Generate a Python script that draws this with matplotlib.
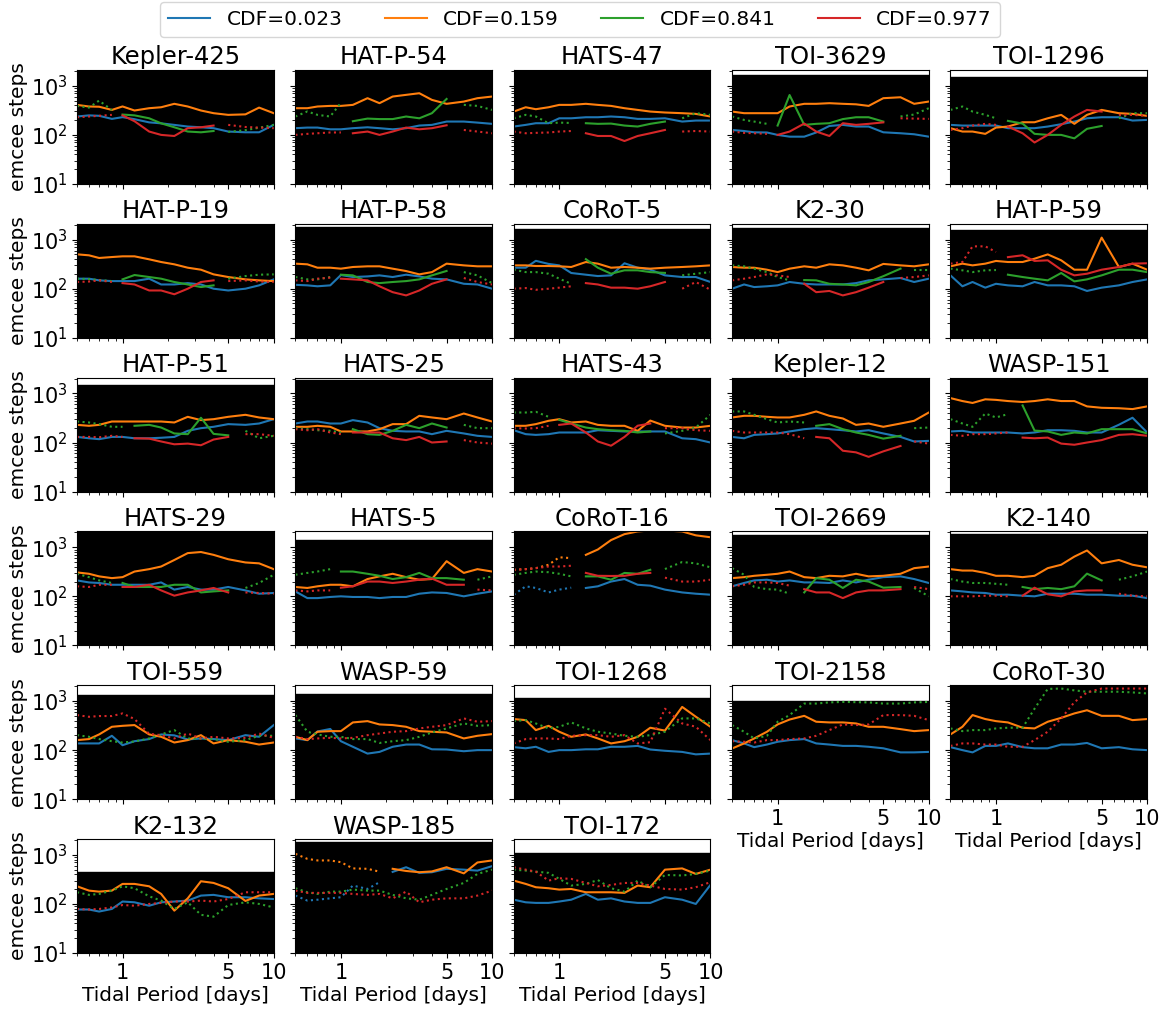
import matplotlib
matplotlib.use('Agg')
import matplotlib.pyplot as plt
from matplotlib.lines import Line2D
from matplotlib.ticker import FixedLocator, FixedFormatter, NullFormatter

# Tidal periods (days) at which the autocorrelation step counts were sampled
PERIODS = [0.5, 0.6, 0.7, 0.85, 1.0, 1.2, 1.5, 1.8, 2.2, 2.7, 3.3, 4.0, 5.0, 6.5, 8.0, 10.0]

PLANETS = ['Kepler-425', 'HAT-P-54', 'HATS-47', 'TOI-3629', 'TOI-1296',
           'HAT-P-19', 'HAT-P-58', 'CoRoT-5', 'K2-30', 'HAT-P-59',
           'HAT-P-51', 'HATS-25', 'HATS-43', 'Kepler-12', 'WASP-151',
           'HATS-29', 'HATS-5', 'CoRoT-16', 'TOI-2669', 'K2-140',
           'TOI-559', 'WASP-59', 'TOI-1268', 'TOI-2158', 'CoRoT-30',
           'K2-132', 'WASP-185', 'TOI-172']

# upper edge of the black band for each planet
BAND_TOP = [3000, 3000, 3000, 1660, 1490,
            3000, 1800, 1650, 1700, 1600,
            1465, 1870, 3000, 3000, 3000,
            3000, 1375, 3000, 1800, 1880,
            1310, 1380, 1150, 1000, 3000,
            440, 1800, 1080]

CDF_LABELS = ['CDF=0.023', 'CDF=0.159', 'CDF=0.841', 'CDF=0.977']
CDF_COLORS = ['C0', 'C1', 'C2', 'C3']

# emcee steps, one row per planet ('s' = converged/solid, 'd' = dotted)
STEPS_023 = [
    [237, 250, 245, 212, 230, 209, 180, 172, 160, 148, 143, 137, 117, 113, 113, 160],
    [137, 141, 141, 130, 130, 137, 143, 137, 130, 137, 155, 160, 187, 187, 178, 168],
    [148, 160, 173, 173, 218, 218, 229, 229, 237, 229, 212, 212, 218, 187, 196, 196],
    [126, 120, 113, 112, 100, 92, 92, 112, 152, 160, 148, 148, 113, 108, 103, 92],
    [160, 155, 155, 155, 155, 137, 137, 137, 148, 165, 187, 218, 229, 229, 196, 202],
    [160, 160, 148, 143, 143, 143, 160, 122, 122, 130, 122, 100, 92, 100, 117, 155],
    [120, 117, 112, 117, 190, 173, 178, 187, 173, 193, 178, 160, 155, 126, 122, 100],
    [268, 268, 370, 320, 299, 209, 193, 181, 187, 330, 268, 244, 187, 173, 173, 137],
    [100, 122, 108, 112, 117, 137, 126, 122, 122, 122, 130, 148, 155, 165, 137, 160],
    [187, 112, 137, 105, 126, 117, 112, 137, 117, 117, 112, 90, 105, 117, 137, 155],
    [130, 122, 117, 130, 130, 122, 122, 125, 130, 173, 196, 209, 237, 229, 244, 299],
    [244, 268, 268, 244, 244, 286, 256, 196, 173, 168, 168, 148, 173, 153, 137, 130],
    [178, 148, 143, 148, 160, 160, 160, 178, 173, 168, 168, 168, 168, 122, 117, 100],
    [130, 122, 143, 148, 153, 168, 187, 196, 187, 178, 168, 178, 153, 130, 105, 108],
    [168, 173, 160, 160, 160, 160, 153, 160, 178, 178, 173, 160, 160, 230, 320, 160],
    [211, 192, 187, 172, 172, 172, 172, 192, 137, 155, 137, 137, 155, 132, 113, 117],
    [126, 92, 92, 97, 100, 97, 97, 92, 97, 97, 113, 120, 117, 100, 113, 126],
    [108, 160, 148, 120, 137, 150, 148, 160, 200, 225, 172, 165, 137, 120, 113, 108],
    [160, 187, 211, 218, 200, 211, 192, 192, 187, 211, 192, 218, 246, 255, 225, 187],
    [132, 126, 120, 117, 108, 108, 103, 100, 113, 113, 113, 108, 108, 103, 103, 92],
    [137, 137, 137, 196, 126, 152, 168, 209, 200, 165, 173, 168, 160, 202, 187, 324],
    [173, 160, 240, 270, 152, 117, 85, 92, 117, 130, 130, 104, 103, 95, 100, 100],
    [115, 109, 117, 92, 100, 100, 104, 104, 117, 117, 122, 103, 97, 92, 82, 85],
    [160, 137, 115, 130, 148, 160, 168, 137, 130, 122, 122, 117, 109, 90, 90, 92],
    [115, 100, 90, 122, 122, 137, 115, 109, 109, 130, 130, 140, 109, 115, 104, 100],
    [77, 77, 70, 79, 112, 108, 92, 108, 112, 117, 148, 153, 137, 137, 130, 126],
    [148, 117, 122, 130, 137, 237, 202, 277, 450, 560, 430, 443, 520, 500, 478, 590],
    [122, 108, 105, 105, 112, 122, 160, 122, 130, 112, 105, 105, 137, 122, 100, 244],
]
STEPS_159 = [
    [409, 379, 375, 323, 380, 314, 350, 366, 430, 379, 314, 277, 256, 262, 360, 277],
    [350, 350, 379, 390, 390, 409, 560, 443, 605, 655, 707, 517, 430, 478, 560, 605],
    [299, 366, 334, 366, 409, 409, 430, 409, 390, 350, 323, 299, 286, 277, 268, 237],
    [299, 277, 277, 277, 277, 379, 430, 430, 443, 430, 420, 390, 560, 585, 430, 478],
    [137, 117, 117, 105, 141, 148, 181, 181, 218, 256, 168, 256, 323, 277, 268, 244],
    [502, 479, 423, 442, 457, 457, 397, 350, 314, 268, 244, 196, 173, 155, 148, 143],
    [324, 314, 268, 268, 256, 277, 286, 286, 256, 229, 196, 218, 324, 299, 286, 286],
    [299, 299, 290, 290, 286, 277, 350, 324, 268, 277, 268, 256, 268, 277, 286, 299],
    [277, 268, 268, 244, 218, 256, 286, 268, 314, 299, 268, 237, 320, 299, 286, 314],
    [286, 324, 299, 324, 368, 350, 350, 409, 500, 379, 244, 244, 1100, 277, 324, 244],
    [229, 219, 229, 268, 268, 268, 268, 268, 256, 334, 286, 299, 334, 367, 324, 299],
    [209, 209, 219, 209, 168, 168, 168, 187, 237, 237, 350, 324, 299, 390, 324, 268],
    [219, 219, 237, 277, 299, 256, 268, 229, 219, 219, 173, 280, 219, 202, 202, 219],
    [324, 350, 350, 334, 324, 324, 367, 430, 350, 309, 229, 244, 209, 244, 277, 409],
    [804, 700, 640, 760, 740, 700, 670, 700, 760, 700, 700, 545, 510, 500, 480, 545],
    [307, 288, 255, 235, 246, 320, 358, 405, 550, 760, 800, 700, 570, 490, 470, 358],
    [155, 148, 160, 172, 172, 160, 225, 255, 288, 246, 218, 225, 520, 300, 358, 320],
    [347, 358, 375, 440, 625, 600, 700, 900, 1400, 1850, 2100, 2200, 2200, 2100, 1750, 1600],
    [235, 246, 262, 275, 288, 320, 246, 235, 262, 255, 288, 255, 262, 288, 375, 405],
    [358, 335, 335, 300, 262, 262, 246, 262, 375, 440, 645, 860, 470, 550, 440, 390],
    [160, 168, 209, 299, 313, 324, 209, 187, 143, 160, 202, 137, 160, 148, 130, 143],
    [187, 160, 237, 244, 244, 367, 390, 334, 324, 299, 244, 237, 229, 173, 196, 212],
    [430, 409, 256, 313, 237, 187, 209, 173, 137, 152, 187, 286, 250, 760, 480, 299],
    [108, 137, 173, 237, 334, 420, 500, 379, 367, 367, 350, 299, 299, 268, 244, 256],
    [209, 299, 518, 430, 390, 367, 286, 277, 379, 455, 560, 650, 500, 500, 409, 430],
    [229, 187, 178, 187, 256, 256, 229, 160, 73, 130, 290, 268, 209, 115, 148, 160],
    [1050, 830, 770, 770, 710, 530, 520, 455, 520, 470, 443, 460, 560, 420, 700, 770],
    [299, 256, 219, 209, 196, 202, 173, 173, 173, 168, 237, 219, 500, 530, 409, 500],
]
STEPS_841 = [
    [390, 360, 500, 320, 260, 250, 218, 172, 143, 117, 113, 120, 115, 125, 140, 160],
    [237, 300, 256, 237, 450, 190, 215, 210, 210, 237, 218, 277, 540, 409, 390, 323],
    [218, 256, 237, 173, 178, 175, 173, 168, 170, 155, 148, 168, 187, 218, 277, 256],
    [237, 202, 187, 168, 155, 650, 160, 168, 173, 210, 229, 229, 187, 237, 260, 350],
    [323, 379, 299, 256, 218, 193, 170, 105, 100, 100, 85, 133, 152, 218, 277, 277],
    [160, 157, 150, 143, 155, 190, 173, 160, 137, 122, 108, 117, 160, 181, 193, 196],
    [173, 155, 155, 173, 193, 187, 137, 130, 137, 143, 155, 187, 230, 218, 187, 130],
    [244, 218, 218, 202, 160, 126, 400, 268, 202, 237, 237, 218, 210, 187, 202, 218],
    [299, 286, 256, 218, 173, 148, 150, 148, 126, 122, 117, 137, 180, 256, 237, 237],
    [256, 237, 218, 237, 240, 193, 173, 160, 148, 209, 141, 155, 187, 244, 244, 218],
    [268, 256, 237, 209, 209, 219, 229, 202, 153, 148, 320, 150, 140, 173, 122, 137],
    [196, 187, 178, 173, 160, 187, 148, 143, 173, 229, 196, 244, 202, 229, 196, 196],
    [409, 409, 423, 334, 290, 244, 202, 187, 178, 173, 160, 168, 153, 173, 202, 367],
    [430, 430, 367, 299, 256, 268, 256, 219, 237, 187, 160, 143, 120, 137, 196, 202],
    [299, 244, 209, 390, 324, 379, 570, 175, 168, 143, 160, 153, 187, 187, 187, 153],
    [288, 246, 211, 187, 187, 155, 155, 155, 172, 172, 120, 126, 132, 148, 187, 275],
    [275, 300, 320, 358, 320, 320, 288, 262, 225, 246, 300, 235, 235, 218, 218, 255],
    [275, 300, 320, 310, 288, 255, 255, 255, 218, 300, 288, 347, 360, 500, 470, 390],
    [375, 275, 155, 140, 137, 113, 120, 235, 218, 148, 218, 200, 150, 155, 148, 100],
    [225, 200, 187, 187, 180, 172, 155, 140, 148, 140, 160, 290, 211, 218, 255, 320],
    [202, 187, 168, 152, 143, 150, 173, 209, 256, 173, 170, 168, 148, 160, 196, 196],
    [518, 237, 209, 187, 187, 168, 168, 140, 152, 160, 187, 229, 277, 350, 313, 324],
    [390, 409, 350, 277, 299, 367, 277, 237, 218, 196, 187, 202, 237, 443, 443, 350],
    [324, 237, 173, 196, 379, 518, 890, 890, 940, 960, 950, 940, 890, 890, 940, 960],
    [277, 244, 256, 256, 277, 286, 286, 700, 1770, 1800, 1650, 1550, 1550, 1550, 1500, 1430],
    [173, 153, 160, 187, 229, 209, 143, 117, 79, 108, 60, 55, 95, 108, 100, 85],
    [209, 173, 160, 178, 178, 196, 187, 187, 153, 130, 122, 153, 202, 268, 409, 500],
    [500, 478, 455, 430, 324, 237, 256, 307, 209, 178, 299, 219, 390, 380, 409, 478],
]
STEPS_977 = [
    [229, 237, 245, 256, 250, 190, 117, 100, 95, 137, 143, 155, 160, 145, 141, 137],
    [100, 105, 108, 112, 112, 108, 117, 100, 117, 141, 130, 137, 157, 126, 117, 108],
    [117, 108, 110, 112, 117, 120, 108, 95, 95, 75, 95, 108, 126, 117, 120, 117],
    [117, 110, 108, 105, 100, 117, 170, 117, 95, 173, 160, 168, 180, 218, 215, 212],
    [126, 137, 155, 168, 160, 148, 108, 70, 100, 160, 237, 323, 299, 256, 256, 244],
    [137, 140, 148, 137, 130, 122, 92, 92, 77, 100, 137, 148, 143, 148, 140, 137],
    [148, 143, 160, 168, 160, 155, 148, 112, 85, 73, 92, 126, 155, 165, 137, 122],
    [100, 103, 95, 100, 105, 112, 130, 122, 105, 105, 100, 112, 137, 100, 137, 95],
    [148, 160, 173, 196, 187, 173, 126, 85, 90, 73, 85, 105, 137, 165, 173, 187],
    [324, 350, 730, 730, 560, 440, 480, 368, 379, 244, 187, 202, 244, 277, 324, 330],
    [130, 130, 128, 137, 130, 122, 120, 105, 92, 95, 88, 115, 130, 148, 148, 137],
    [187, 178, 187, 160, 148, 160, 160, 160, 122, 112, 130, 100, 105, 112, 100, 95],
    [196, 193, 196, 219, 229, 244, 160, 105, 86, 130, 220, 244, 196, 196, 178, 173],
    [173, 160, 160, 160, 160, 148, 122, 130, 122, 68, 63, 51, 66, 85, 105, 95],
    [143, 137, 148, 148, 153, 160, 126, 122, 126, 95, 90, 100, 112, 143, 148, 137],
    [160, 155, 172, 172, 155, 155, 172, 132, 103, 120, 132, 148, 120, 120, 117, 113],
    [132, 126, 132, 132, 150, 160, 200, 200, 187, 200, 218, 230, 172, 172, 137, 132],
    [347, 358, 375, 405, 405, 420, 300, 262, 260, 262, 288, 300, 240, 200, 200, 218],
    [160, 172, 192, 192, 187, 165, 140, 120, 120, 92, 120, 132, 132, 140, 155, 140],
    [100, 100, 100, 103, 103, 100, 103, 150, 110, 100, 126, 132, 132, 113, 103, 100],
    [518, 478, 495, 495, 560, 430, 215, 202, 173, 218, 173, 187, 173, 178, 218, 178],
    [187, 168, 173, 178, 173, 178, 202, 218, 237, 244, 277, 299, 324, 443, 379, 390],
    [137, 168, 173, 173, 168, 196, 202, 202, 187, 202, 137, 145, 700, 350, 300, 160],
    [152, 148, 143, 160, 160, 168, 173, 196, 256, 334, 324, 334, 518, 518, 500, 409],
    [122, 137, 137, 130, 130, 117, 117, 160, 237, 443, 950, 1500, 1800, 1800, 1800, 1800],
    [79, 77, 79, 85, 95, 92, 100, 105, 112, 112, 117, 112, 126, 173, 173, 173],
    [187, 168, 168, 168, 168, 160, 153, 160, 130, 178, 108, 122, 130, 130, 148, 187],
    [560, 500, 455, 299, 334, 324, 268, 229, 244, 268, 268, 237, 202, 196, 219, 278],
]

ALL_S = 'ssssssssssssssss'
ALL_D = 'dddddddddddddddd'
STYLE_023 = [ALL_S] * 17 + ['dddddd ssssssssss'] + [ALL_S] * 8 + ['dddddddd ssssssss', ALL_S]
STYLE_159 = list(STYLE_023)
STYLE_841 = [
    'dddd ssssssss dddd', 'ddddd ssssssss ddd', 'dddddd sssssss ddd', 'dddd sssssssss ddd',
    'ddddd ssssssss ddd', 'dddd ssssssss dddd', 'dddd sssssssss ddd', 'dddddd sssssss ddd',
    'dddddd ssssssss dd', 'ddddd sssssssssss', 'ddddd ssssssss ddd', 'ddddd ssssssss ddd',
    'dddd ssssssss dddd', 'ddddddd sssssss dd', 'dddddd ssssssssss', 'dddd sssssssss ddd',
    'dddd ssssssssss dd', 'dddddd ssssss dddd', 'dddddd ssssssss dd', 'dddddd sssssss ddd',
] + [ALL_D] * 8
STYLE_977 = [
    'dddd ssssssss dddd', 'ddddd ssssssss ddd', 'dddddd sssssss ddd', 'dddd sssssssss ddd',
    'ddddd ssssssss ddd', 'dddd ssssssss dddd', 'dddd sssssssss ddd', 'dddddd sssssss ddd',
    'dddddd sssssss ddd', 'ddddd sssssssssss', 'ddddd ssssssss ddd', 'ddddd ssssssss ddd',
    'dddd ssssssss dddd', 'ddddddd sssssss dd', 'dddddd ssssssssss', 'dddd sssssssss ddd',
    'dddd ssssssssss dd', 'dddddd ssssss dddd', 'dddddd ssssssss dd', 'dddddd sssssss ddd',
] + [ALL_D] * 8

SERIES = [(STEPS_023, STYLE_023), (STEPS_159, STYLE_159),
          (STEPS_841, STYLE_841), (STEPS_977, STYLE_977)]


def _plot_runs(ax, values, style, color):
    # split a series into solid / dotted stretches and draw each one
    style = style.replace(' ', '')
    start = 0
    for i in range(1, len(style) + 1):
        if i == len(style) or style[i] != style[start]:
            ls = '-' if style[start] == 's' else ':'
            ax.plot(PERIODS[start:i], values[start:i], color=color,
                    linestyle=ls, linewidth=1.5, zorder=2)
            start = i


fig, axes = plt.subplots(6, 5, figsize=(11.67, 10.09), dpi=100)
fig.subplots_adjust(left=0.066, right=0.983, top=0.9306, bottom=0.0555,
                    wspace=0.11, hspace=0.35)

nrows, ncols = 6, 5
n = len(PLANETS)
for idx in range(nrows * ncols):
    row, col = divmod(idx, ncols)
    ax = axes[row, col]
    if idx >= n:
        ax.remove()
        continue

    ax.set_xscale('log')
    ax.set_yscale('log')
    ax.axhspan(1, BAND_TOP[idx], color='black', zorder=0)
    for (steps, styles), color in zip(SERIES, CDF_COLORS):
        _plot_runs(ax, steps[idx], styles[idx], color)

    ax.set_xlim(0.5, 10)
    ax.set_ylim(10, 2100)
    ax.xaxis.set_major_locator(FixedLocator([1, 5, 10]))
    ax.xaxis.set_major_formatter(FixedFormatter(['1', '5', '10']))
    ax.xaxis.set_minor_locator(FixedLocator([0.5, 0.6, 0.7, 0.8, 0.9, 2, 3, 4, 6, 7, 8, 9]))
    ax.xaxis.set_minor_formatter(NullFormatter())
    ax.tick_params(labelsize=15)
    ax.set_title(PLANETS[idx], fontsize=17.5, pad=4)

    bottom_panel = idx + ncols >= n
    if bottom_panel:
        ax.set_xlabel('Tidal Period [days]', fontsize=14.5, labelpad=2)
    else:
        ax.tick_params(labelbottom=False)
    if col == 0:
        ax.set_ylabel('emcee steps', fontsize=14.5, labelpad=2)
    else:
        ax.tick_params(labelleft=False)

handles = [Line2D([], [], color=c, linewidth=1.5) for c in CDF_COLORS]
fig.legend(handles, CDF_LABELS, loc='upper center', bbox_to_anchor=(0.497, 1.0),
           ncol=4, fontsize=14.5, columnspacing=2.1, handlelength=2.1,
           borderaxespad=0.1)

plt.savefig('out.png', dpi=100)
